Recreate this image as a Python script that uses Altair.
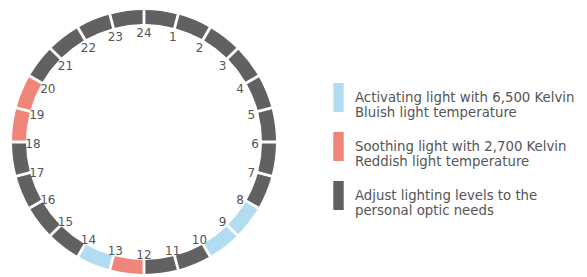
import math
import altair as alt
import pandas as pd

# 24 hour segments (segment k spans from clock label k-1 to label k)
hours = list(range(1, 25))
segment_type = (["adjust"] * 8 + ["active", "active"] + ["adjust", "adjust"]
                + ["soothe", "active"] + ["adjust"] * 4 + ["soothe", "soothe"]
                + ["adjust"] * 4)

type_keys = ["active", "soothe", "adjust"]
legend_labels = [
    "Activating light with 6,500 Kelvin|Bluish light temperature",
    "Soothing light with 2,700 Kelvin|Reddish light temperature",
    "Adjust lighting levels to the|personal optic needs",
]
colors = ["#b1dcf2", "#f0857a", "#616161"]

label_of = dict(zip(type_keys, legend_labels))
seg_df = pd.DataFrame({
    "hour": hours,
    "start": [(h - 1) * 15 for h in hours],
    "end": [h * 15 for h in hours],
    "type": [label_of[t] for t in segment_type],
})
lab_df = pd.DataFrame({
    "label": [str(h) for h in hours],
    "angle": [(h % 24) * 15 for h in hours],
})

FONT = "DejaVu Sans"
cx, cy = 136, 134
theta_scale = alt.Scale(domain=[0, 360], range=[0, 2 * math.pi])

arcs = alt.Chart(seg_df).mark_arc(radius=132, radius2=118, padAngle=0.016).encode(
    theta=alt.Theta("start:Q", scale=theta_scale, stack=None),
    theta2="end:Q",
    x=alt.value(cx),
    y=alt.value(cy),
    color=alt.Color(
        "type:N",
        scale=alt.Scale(domain=legend_labels, range=colors),
        legend=alt.Legend(
            title=None,
            orient="none",
            legendX=316,
            legendY=75,
            symbolType="M-0.36,-1H0.36V1H-0.36Z",
            symbolSize=841,
            symbolStrokeWidth=0,
            symbolOpacity=1,
            labelExpr="split(datum.label, '|')",
            labelFont=FONT,
            labelFontSize=13.3,
            labelColor="#555555",
            labelLimit=400,
            labelOffset=2,
            rowPadding=12,
            padding=0,
        ),
    ),
)

labels = alt.Chart(lab_df).mark_text(
    radius=111, dy=2, font=FONT, fontSize=12, color="#555555"
).encode(
    theta=alt.Theta("angle:Q", scale=theta_scale, stack=None),
    x=alt.value(cx),
    y=alt.value(cy),
    text="label:N",
)

chart = alt.layer(arcs, labels).properties(
    width=571, height=269, padding=0, autosize=alt.AutoSizeParams(type="none")
).configure_view(stroke=None)

chart.save("out.html", embed_options={"renderer": "svg", "actions": False})
